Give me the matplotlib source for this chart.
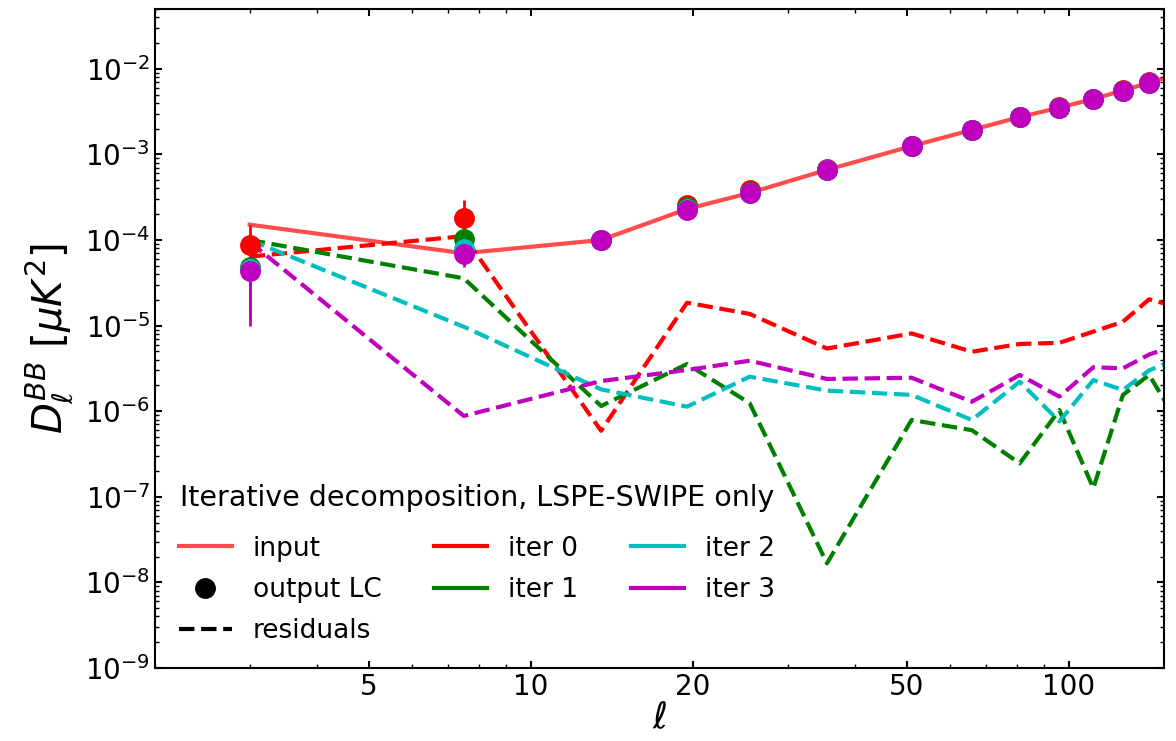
import numpy as np
import matplotlib
matplotlib.use('Agg')
import matplotlib.pyplot as plt
from matplotlib.lines import Line2D

# multipole bins
ell = np.array([3, 7.5, 13.5, 19.5, 25.5, 35.5, 51, 66, 81, 96, 111, 126, 141, 156])

# input spectrum
D_in = np.array([1.51e-4, 7.0e-5, 1.0e-4, 2.3e-4, 3.55e-4, 6.6e-4, 1.25e-3, 1.93e-3,
                 2.73e-3, 3.52e-3, 4.44e-3, 5.57e-3, 6.9e-3, 8.3e-3])

# output LC per iteration
out0 = np.array([8.7e-5, 1.81e-4, 1.0e-4, 2.55e-4, 3.85e-4, 6.7e-4, 1.27e-3, 1.95e-3,
                 2.75e-3, 3.55e-3, 4.46e-3, 5.6e-3, 6.92e-3, 8.3e-3])
out1 = np.array([4.9e-5, 1.03e-4, 1.0e-4, 2.4e-4, 3.6e-4, 6.6e-4, 1.25e-3, 1.93e-3,
                 2.73e-3, 3.52e-3, 4.44e-3, 5.57e-3, 6.9e-3, 8.3e-3])
out2 = np.array([4.6e-5, 7.9e-5, 1.0e-4, 2.3e-4, 3.5e-4, 6.6e-4, 1.25e-3, 1.93e-3,
                 2.73e-3, 3.52e-3, 4.44e-3, 5.57e-3, 6.9e-3, 8.3e-3])
out3 = np.array([4.4e-5, 6.8e-5, 1.0e-4, 2.25e-4, 3.5e-4, 6.6e-4, 1.25e-3, 1.93e-3,
                 2.73e-3, 3.51e-3, 4.44e-3, 5.55e-3, 6.89e-3, 8.3e-3])

# error bars
err0 = np.array([6.4e-5, 1.1e-4, 2.4e-5, 3e-5, 4e-5, 5e-5, 8e-5, 1e-4,
                 1.2e-4, 1.4e-4, 1.6e-4, 1.8e-4, 2e-4, 2.2e-4])
err = np.array([3.4e-5, 1.9e-5, 2.4e-5, 3e-5, 4e-5, 5e-5, 8e-5, 1e-4,
                1.2e-4, 1.4e-4, 1.6e-4, 1.8e-4, 2e-4, 2.2e-4])

# residuals per iteration
res0 = np.array([6.4e-5, 1.11e-4, 5.9e-7, 1.85e-5, 1.37e-5, 5.4e-6, 8.1e-6, 4.95e-6,
                 6.1e-6, 6.3e-6, 8.5e-6, 1.11e-5, 2.03e-5, 1.7e-5])
res1 = np.array([1.0e-4, 3.57e-5, 1.15e-6, 3.56e-6, 1.24e-6, 1.67e-8, 7.9e-7, 6.0e-7,
                 2.46e-7, 1.03e-6, 1.26e-7, 1.55e-6, 2.65e-6, 9.2e-7])
res2 = np.array([1.0e-4, 9.7e-6, 1.8e-6, 1.13e-6, 2.53e-6, 1.74e-6, 1.55e-6, 7.9e-7,
                 2.21e-6, 7.6e-7, 2.31e-6, 1.77e-6, 3.0e-6, 3.9e-6])
res3 = np.array([9.5e-5, 8.8e-7, 2.25e-6, 3.03e-6, 3.89e-6, 2.38e-6, 2.46e-6, 1.29e-6,
                 2.65e-6, 1.48e-6, 3.26e-6, 3.17e-6, 4.6e-6, 5.7e-6])

outs = [out0, out1, out2, out3]
errs = [err0, err, err, err]
ress = [res0, res1, res2, res3]
colors = ['r', 'g', 'c', 'm']
labels = ['iter 0', 'iter 1', 'iter 2', 'iter 3']

fig = plt.figure(figsize=(11.76, 7.41), dpi=100)
ax = fig.add_axes([0.1318, 0.0985, 0.8577, 0.8894])

ax.plot(ell, D_in, color='r', alpha=0.7, lw=3)
for o, e, r, c in zip(outs, errs, ress, colors):
    ax.errorbar(ell, o, yerr=e, fmt='o', color=c, ms=14, elinewidth=2, capsize=0)
    ax.plot(ell, r, '--', color=c, lw=3)

ax.set_xscale('log')
ax.set_yscale('log')
ax.set_xlim(2, 150)
ax.set_ylim(1e-9, 5e-2)
ax.set_xticks([5, 10, 20, 50, 100])
ax.set_xticklabels(['5', '10', '20', '50', '100'])
ax.tick_params(which='both', direction='in', top=True, right=True, labelsize=20)
ax.tick_params(which='major', length=5, width=1.5)
ax.tick_params(which='minor', length=3, width=1)
ax.yaxis.set_minor_locator(matplotlib.ticker.LogLocator(base=10, subs=np.arange(2, 10), numticks=20))
for s in ax.spines.values():
    s.set_linewidth(1.5)

ax.set_xlabel(r'$\ell$', fontsize=26, labelpad=0.5)
ax.set_ylabel(r'$D_\ell^{BB}$ [$\mu K^2$]', fontsize=29, labelpad=7.5)

# legend with proxy handles
handles = [Line2D([], [], color='r', alpha=0.7, lw=3),
           Line2D([], [], color='k', marker='o', ls='', ms=14),
           Line2D([], [], color='k', ls='--', lw=3)]
names = ['input', 'output LC', 'residuals']
for c, l in zip(colors, labels):
    handles.append(Line2D([], [], color=c, lw=3))
    names.append(l)
leg = ax.legend(handles, names, ncol=3, loc='lower left', frameon=False, fontsize=19,
                title='Iterative decomposition, LSPE-SWIPE only', title_fontsize=20.5,
                handlelength=2.0, labelspacing=0.58)
leg._legend_box.sep = 16.7

fig.savefig('out.png', dpi=100)
